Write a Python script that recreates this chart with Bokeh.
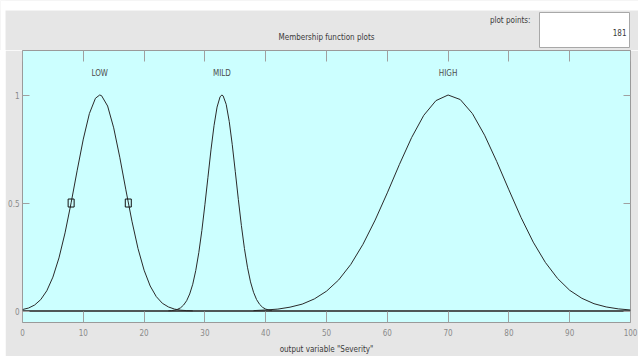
from bokeh.plotting import figure
from bokeh.layouts import column
from bokeh.models import Range1d, FixedTicker, LinearAxis, Span
from bokeh.embed import file_html
from bokeh.resources import INLINE
from bokeh.core.properties import value

# ---------------- data ----------------
low_x = [0, 1, 2, 3, 4, 5, 6, 7, 8, 9, 10, 11, 12, 12.7, 13, 14, 15, 16, 17, 18,
         19, 20, 21, 22, 23, 24, 25, 26, 27, 28]
low_y = [0.007, 0.014, 0.028, 0.053, 0.094, 0.157, 0.246, 0.362, 0.501, 0.652,
         0.796, 0.914, 0.985, 1.0, 0.997, 0.949, 0.848, 0.712, 0.561, 0.416,
         0.289, 0.189, 0.116, 0.067, 0.036, 0.019, 0.009, 0.004, 0.002, 0.001]

mild_x = [24, 24.5, 25, 25.5, 26, 26.5, 27, 27.5, 28, 28.5, 29, 29.5, 30, 30.5,
          31, 31.5, 32, 32.5, 32.8, 33, 33.5, 34, 34.5, 35, 35.5, 36, 36.5, 37,
          37.5, 38, 38.5, 39, 39.5, 40, 40.5, 41]
mild_y = [0.001, 0.002, 0.004, 0.008, 0.015, 0.028, 0.048, 0.079, 0.124, 0.188,
          0.271, 0.373, 0.492, 0.619, 0.746, 0.858, 0.944, 0.992, 1.0, 0.996,
          0.957, 0.878, 0.770, 0.645, 0.517, 0.396, 0.290, 0.203, 0.135, 0.087,
          0.053, 0.031, 0.017, 0.009, 0.005, 0.002]

high_x = [38, 40, 42, 44, 46, 48, 50, 52, 54, 56, 58, 60, 62, 64, 66, 68, 70,
          72, 74, 76, 78, 80, 82, 84, 86, 88, 90, 92, 94, 96, 98, 100]
high_y = [0.002, 0.005, 0.009, 0.018, 0.032, 0.056, 0.092, 0.144, 0.216, 0.309,
          0.421, 0.547, 0.679, 0.803, 0.906, 0.974, 1.0, 0.979, 0.914, 0.814,
          0.692, 0.561, 0.433, 0.319, 0.225, 0.151, 0.096, 0.059, 0.034, 0.019,
          0.010, 0.005]

mf_names = ["LOW", "MILD", "HIGH"]
low_half_x = [8.0, 17.4]
low_half_y = [0.5, 0.5]

x_ticks = [0, 10, 20, 30, 40, 50, 60, 70, 80, 90, 100]
y_ticks = [0, 0.5, 1]
y_tick_labels = ["0", "0.5", "1"]

title_text = "Membership function plots"
x_label = 'output variable "Severity"'
plot_points_label = "plot points:"
plot_points = 181

# ---------------- layout / style ----------------
W, H = 638, 356
HEAD = 50            # height of the header strip above the plot frame
PAGE_L = 5           # white page margin on the left
PAGE_T = 10          # white page margin on the top
FONT = "Liberation Sans Narrow, DejaVu Sans Condensed, Arial Narrow, sans-serif"
FS = "8px"
GRAY_BG = "#e6e6e6"
TICK_C = "#a0a0a0"
LBL_C = "#8a8a8a"
TXT_C = "#3a3a3a"


def no_frame_align(fig):
    try:
        fig.frame_align = False
    except Exception:
        pass


# ---- header: title, "plot points" box (pixel coordinates) ----
hd = figure(width=W, height=HEAD, output_backend="svg", toolbar_location=None,
            x_range=Range1d(0, W), y_range=Range1d(HEAD, 0),
            x_axis_type=None, y_axis_type=None,
            min_border=0, min_border_left=0, min_border_right=0,
            min_border_top=0, min_border_bottom=0)
no_frame_align(hd)
hd.background_fill_color = GRAY_BG
hd.border_fill_color = GRAY_BG
hd.outline_line_color = None
hd.grid.visible = False
hd.quad(left=[0, 0], right=[W, PAGE_L], top=[0, 0], bottom=[PAGE_T, HEAD],
        fill_color="white", line_color=None)
hd.quad(left=[539], right=[629], top=[12], bottom=[47],
        fill_color="white", line_color="#a8a8a8", line_width=1)
hd.text(x=[326], y=[37], text=[title_text], text_align="center",
        text_baseline="middle", text_font=value(FONT), text_font_size=FS,
        text_color=TXT_C)
hd.text(x=[530], y=[20], text=[plot_points_label], text_align="right",
        text_baseline="middle", text_font=value(FONT), text_font_size=FS,
        text_color=TXT_C)
hd.text(x=[626], y=[32], text=[str(plot_points)], text_align="right",
        text_baseline="middle", text_font=value(FONT), text_font_size=FS,
        text_color=TXT_C)

# ---- main plot ----
p = figure(width=W - PAGE_L, height=H - HEAD, output_backend="svg",
           toolbar_location=None, margin=(0, 0, 0, PAGE_L),
           x_range=Range1d(0, 100), y_range=Range1d(-0.053, 1.206),
           min_border_left=22 - PAGE_L, min_border_right=8, min_border_top=0,
           min_border_bottom=34)
no_frame_align(p)
p.background_fill_color = "#ccffff"
p.border_fill_color = GRAY_BG
p.outline_line_color = "#9a9a9a"
p.outline_line_width = 1
p.grid.visible = False


def style_axis(ax, tick_in, show_labels):
    ax.axis_line_color = None
    ax.major_tick_in = tick_in
    ax.major_tick_out = 0
    ax.minor_tick_line_color = None
    ax.major_tick_line_color = TICK_C
    ax.major_label_text_font = FONT
    if show_labels:
        ax.major_label_text_font_size = FS
        ax.major_label_text_color = LBL_C
    else:
        ax.major_label_text_font_size = "0px"
        ax.major_label_text_color = None
        ax.major_label_standoff = 0


xa = p.xaxis[0]
xa.ticker = FixedTicker(ticks=x_ticks)
style_axis(xa, 11, True)
xa.major_label_standoff = 6
xa.axis_label = x_label
xa.axis_label_text_font = FONT
xa.axis_label_text_font_size = FS
xa.axis_label_text_font_style = "normal"
xa.axis_label_text_color = TXT_C
xa.axis_label_standoff = 6

ya = p.yaxis[0]
ya.ticker = FixedTicker(ticks=y_ticks)
ya.major_label_overrides = {t: s for t, s in zip(y_ticks, y_tick_labels)}
style_axis(ya, 7, True)
ya.major_label_standoff = 3

xt = LinearAxis(ticker=FixedTicker(ticks=x_ticks))
style_axis(xt, 11, False)
p.add_layout(xt, "above")
yr = LinearAxis(ticker=FixedTicker(ticks=y_ticks))
style_axis(yr, 7, False)
p.add_layout(yr, "right")

# zero line under the curves
p.add_layout(Span(location=0, dimension="width", line_color="#4f5858",
                  line_width=2, level="underlay"))

for xs, ys in ((low_x, low_y), (mild_x, mild_y), (high_x, high_y)):
    p.line(xs, ys, line_color="#2a2a2a", line_width=1)

p.rect(low_half_x, low_half_y, width=6, height=8, width_units="screen",
       height_units="screen", fill_color=None, line_color="#111111",
       line_width=1)

peaks_x = [xs[ys.index(max(ys))] for xs, ys in
           ((low_x, low_y), (mild_x, mild_y), (high_x, high_y))]
p.text(x=peaks_x, y=[1.1] * 3, text=mf_names, text_align="center",
       text_baseline="middle", text_font=value(FONT), text_font_size=FS,
       text_color="#4d4d4d")

layout = column(hd, p, spacing=0)
open("out.html", "w").write(file_html(layout, INLINE))
